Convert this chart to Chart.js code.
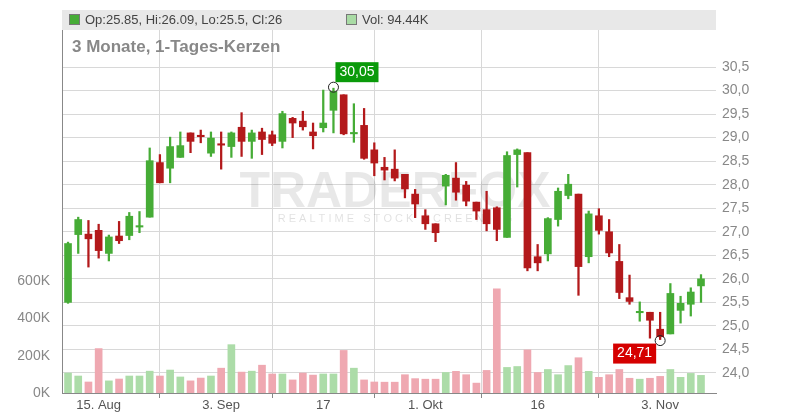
<!DOCTYPE html>
<html><head><meta charset="utf-8">
<script src="https://cdn.jsdelivr.net/npm/chart.js@4.4.1/dist/chart.umd.min.js"></script>
<style>html,body{margin:0;padding:0;background:#fff}#w{width:800px;height:420px}</style>
</head><body><div id="w"><canvas id="c"></canvas></div>
<script>
const opens  = [25.50,26.94,26.95,27.03,26.54,26.91,26.92,27.10,27.31,28.47,28.35,28.58,29.10,29.05,28.67,28.87,28.81,29.22,28.92,29.12,29.06,28.92,29.41,29.35,29.12,29.21,29.58,29.91,29.08,29.26,28.74,28.37,28.33,28.22,27.80,27.34,27.17,27.97,28.14,27.99,27.63,27.47,27.51,26.88,28.64,28.68,26.47,26.53,27.26,27.77,27.80,26.47,27.34,27.00,26.37,25.60,25.28,25.29,24.93,24.83,25.33,25.46,25.85];
const highs  = [26.78,27.31,27.24,27.16,26.93,27.22,27.41,27.43,28.78,28.64,29.01,29.12,29.10,29.16,29.12,29.12,29.12,29.53,29.16,29.20,29.14,29.56,29.43,29.56,29.31,30.01,30.05,29.91,29.72,29.62,28.89,28.58,28.74,28.22,27.90,27.47,27.17,28.22,28.47,28.07,27.63,27.86,27.53,28.70,28.76,28.68,26.73,27.30,27.93,28.22,27.80,27.44,27.49,27.26,26.73,26.08,25.51,25.29,25.29,25.90,25.63,25.81,26.09];
const lows   = [25.48,26.54,26.25,26.44,26.38,26.75,26.83,26.98,27.31,28.04,28.04,28.58,28.68,28.89,28.60,28.33,28.58,28.60,28.56,28.64,28.83,28.78,29.00,29.16,28.76,29.12,29.10,29.06,28.90,28.54,28.19,28.10,28.08,27.72,27.30,27.05,26.79,27.57,27.67,27.55,27.26,27.02,26.81,26.88,27.95,26.17,26.17,26.38,27.12,27.70,25.65,26.34,26.95,26.47,25.58,25.46,25.10,24.74,24.71,24.83,25.06,25.21,25.50];
const closes = [26.75,27.26,26.85,26.60,26.89,26.81,27.33,27.12,28.51,28.04,28.81,28.83,28.92,29.04,28.99,28.86,29.10,28.92,29.10,28.96,28.88,29.51,29.31,29.23,29.04,29.31,29.98,29.08,29.09,28.56,28.46,28.31,28.14,27.91,27.59,27.17,26.98,28.20,27.84,27.65,27.44,27.17,27.05,28.62,28.74,26.23,26.34,27.28,27.86,28.01,26.26,27.38,27.03,26.55,25.71,25.52,25.29,25.12,24.77,25.69,25.48,25.72,26.00];
const volumes = [107,91,59,238,65,75,91,91,117,91,123,86,65,80,91,133,259,112,117,149,102,102,70,107,96,102,102,228,133,70,59,58,58,98,77,74,74,110,116,98,53,121,558,137,142,231,110,126,98,147,189,116,84,98,126,79,74,79,89,126,84,105,94.44];
const dateLabels = {3:'15. Aug',15:'3. Sep',25:'17',35:'1. Okt',46:'16',58:'3. Nov'};
const priceTicks = [24.0,24.5,25.0,25.5,26.0,26.5,27.0,27.5,28.0,28.5,29.0,29.5,30.0,30.5];
const volTicks = [0,200,400,600];

const idx = opens.map((_,i)=>i);
const up = opens.map((o,i)=>closes[i]>=o);
const GREEN='#46ac36', RED='#b3191b';

const deco = {
  id:'deco',
  beforeDatasetsDraw(ch){
    const c=ch.ctx;
    c.save();
    c.fillStyle='rgba(0,0,0,0.09)';
    c.font='bold 50px "Liberation Sans", Arial';
    c.textAlign='center';c.textBaseline='middle';
    c.fillText('TRADERFOX',395,193);
    c.font='11px "Liberation Sans", Arial';
    c.fillStyle='rgba(0,0,0,0.12)';
    c.fillText('R E A L T I M E   S T O C K   S C R E E N I N G',395,219);
    c.restore();
  },
  afterDraw(ch){
    const c=ch.ctx, a=ch.chartArea, x=ch.scales.x, y=ch.scales.y;
    c.save();
    c.fillStyle='#e8e8e8'; c.fillRect(a.left,10,a.right-a.left,20);
    c.fillStyle=GREEN; c.fillRect(69,14,11,11);
    c.fillStyle='#a9dba5'; c.fillRect(346,14,11,11);
    c.strokeStyle='#777';c.lineWidth=1;c.strokeRect(69.5,14.5,10,10);c.strokeRect(346.5,14.5,10,10);
    c.fillStyle='#444'; c.font='13px "Liberation Sans", Arial'; c.textBaseline='middle'; c.textAlign='left';
    c.fillText('Op:25.85, Hi:26.09, Lo:25.5, Cl:26',85,20);
    c.fillText('Vol: 94.44K',362,20);
    c.fillStyle='#888'; c.font='bold 17px "Liberation Sans", Arial';
    c.fillText('3 Monate, 1-Tages-Kerzen',72,47);
    const mk=(i,val,txt,col,above)=>{
      const px=x.getPixelForValue(i), py=y.getPixelForValue(val);
      c.beginPath();c.arc(px,py+(above?-1:1),5,0,Math.PI*2);c.strokeStyle='#222';c.lineWidth=1;c.stroke();
      c.font='14px "Liberation Sans", Arial';
      const w=c.measureText(txt).width+8;
      const bx=above?px+2:px-w-4, by=above?py-26:py+4;
      c.fillStyle=col;c.fillRect(bx,by,w,20);
      c.fillStyle='#fff';c.textAlign='left';c.fillText(txt,bx+4,by+10);
    };
    mk(26,highs[26],'30,05','#0a9a0a',true);
    mk(58,lows[58],'24,71','#d50000',false);
    c.restore();
  }
};

const pts = arr => arr.map((v,i)=>({x:i,y:v}));
new Chart(document.getElementById('c'),{
  type:'bar',
  data:{datasets:[
    {yAxisID:'v',data:pts(volumes),backgroundColor:up.map(u=>u?'#acdca8':'#efa8b1'),barThickness:7,grouped:false,order:3},
    {yAxisID:'y',data:pts(lows.map((l,i)=>[l,highs[i]])),backgroundColor:up.map(u=>u?GREEN:RED),barThickness:1.6,grouped:false,order:2},
    {yAxisID:'y',data:pts(opens.map((o,i)=>{let c=closes[i];if(Math.abs(c-o)<0.03)c=o+(c>=o?0.03:-0.03);return [o,c];})),backgroundColor:up.map(u=>u?GREEN:RED),barThickness:7,grouped:false,order:1}
  ]},
  options:{
    responsive:true,maintainAspectRatio:false,animation:false,
    layout:{padding:{top:30,left:0,right:0,bottom:0}},
    plugins:{legend:{display:false},tooltip:{enabled:false}},
    scales:{
      x:{type:'linear',min:-0.59,max:63.47,offset:false,
        afterBuildTicks:s=>{s.ticks=Object.keys(dateLabels).map(k=>({value:+k}));},
        grid:{color:'#d8d8d8',drawTicks:true,tickLength:5,tickColor:'#888'},
        border:{color:'#888'},
        ticks:{autoSkip:false,maxRotation:0,color:'#555',font:{size:13,family:'"Liberation Sans", Arial'},padding:0,
          callback:v=>dateLabels[v]},
        afterFit:s=>{s.height=27;}
      },
      y:{position:'right',min:23.575,max:31.286,
        afterBuildTicks:s=>{s.ticks=priceTicks.map(v=>({value:v}));},
        grid:{color:'#d8d8d8',drawTicks:false},
        border:{display:false},
        ticks:{color:'#888',font:{size:14,family:'"Liberation Sans", Arial'},padding:6,callback:v=>v.toFixed(1).replace('.',',')},
        afterFit:s=>{s.width=84;}
      },
      v:{position:'left',min:0,max:1945,
        afterBuildTicks:s=>{s.ticks=volTicks.map(v=>({value:v}));},
        grid:{display:false},
        border:{color:'#888'},
        ticks:{color:'#888',font:{size:14,family:'"Liberation Sans", Arial'},padding:4,callback:v=>v+'K'},
        afterFit:s=>{s.width=62;}
      }
    }
  },
  plugins:[deco]
});
</script></body></html>
